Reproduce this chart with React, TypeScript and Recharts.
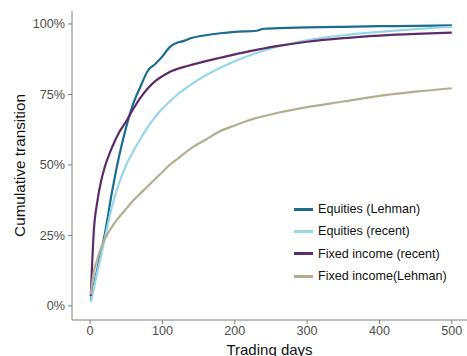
import React from "react";
import { LineChart, Line, XAxis, YAxis, Label } from "recharts";

// Trading days after the shock, and the cumulative share of the transition done by then.
const days = [1, 5, 10, 15, 20, 30, 40, 50, 60, 70, 80, 90, 100, 110, 120, 130, 140, 160, 180, 200, 230, 240, 260, 300, 350, 400, 450, 500];
const eqLehman = [0.02, 0.07, 0.13, 0.19, 0.25, 0.4, 0.53, 0.635, 0.72, 0.78, 0.835, 0.858, 0.885, 0.918, 0.933, 0.94, 0.95, 0.96, 0.967, 0.972, 0.976, 0.983, 0.985, 0.988, 0.99, 0.992, 0.993, 0.995];
const eqRecent = [0.014, 0.06, 0.12, 0.175, 0.235, 0.35, 0.435, 0.5, 0.55, 0.594, 0.635, 0.67, 0.7, 0.725, 0.748, 0.768, 0.786, 0.818, 0.845, 0.868, 0.897, 0.905, 0.92, 0.942, 0.96, 0.972, 0.982, 0.99];
const fiRecent = [0.035, 0.26, 0.37, 0.44, 0.49, 0.56, 0.615, 0.655, 0.7, 0.74, 0.772, 0.797, 0.815, 0.83, 0.84, 0.848, 0.855, 0.868, 0.88, 0.892, 0.908, 0.913, 0.922, 0.937, 0.95, 0.959, 0.965, 0.969];
const fiLehman = [0.04, 0.12, 0.165, 0.205, 0.235, 0.28, 0.315, 0.345, 0.375, 0.4, 0.425, 0.45, 0.475, 0.5, 0.52, 0.54, 0.56, 0.59, 0.62, 0.64, 0.667, 0.673, 0.685, 0.705, 0.725, 0.745, 0.76, 0.772];

const xTicks = [0, 100, 200, 300, 400, 500];
const yTicks = [0, 0.25, 0.5, 0.75, 1];

const series = [
  { key: "eqLehman", name: "Equities (Lehman)", color: "#1c6c8e", width: 2.2 },
  { key: "eqRecent", name: "Equities (recent)", color: "#96d6ea", width: 2.2 },
  { key: "fiRecent", name: "Fixed income (recent)", color: "#5c2b69", width: 2.2 },
  { key: "fiLehman", name: "Fixed income(Lehman)", color: "#b4ad8f", width: 2.2 },
];

const data = days.map((d, i) => ({
  d,
  eqLehman: eqLehman[i],
  eqRecent: eqRecent[i],
  fiRecent: fiRecent[i],
  fiLehman: fiLehman[i],
}));

const font = "'Liberation Sans', Arial, Helvetica, sans-serif";
const tickStyle = { fill: "#4d4d4d", fontSize: 12.6, fontFamily: font };

// legend drawn as a plain overlay so the chart doesn't reserve room for it
function LegendBox() {
  return (
    <div style={{ position: "absolute", left: 294, top: 198, fontFamily: font, fontSize: 12.6, color: "#111" }}>
      {series.map((s) => (
        <div key={s.key} style={{ display: "flex", alignItems: "center", height: 22.3 }}>
          <span style={{ display: "inline-block", width: 19, height: 3, background: s.color, marginRight: 5 }} />
          <span>{s.name}</span>
        </div>
      ))}
    </div>
  );
}

export default function App() {
  return (
    <div style={{ position: "absolute", left: 0, top: 0, width: 467, height: 356, overflow: "hidden", background: "#fff" }}>
      <LineChart width={467} height={356} data={data} margin={{ top: 11, right: 0, left: 0, bottom: 16 }}>
        <XAxis
          dataKey="d"
          type="number"
          domain={[-25, 521]}
          ticks={xTicks}
          tick={tickStyle}
          tickSize={4}
          tickMargin={2}
          height={20}
          stroke="#7f7f7f"
          tickLine={{ stroke: "#7f7f7f" }}
          allowDataOverflow
        >
          <Label value="Trading days" position="bottom" offset={4} style={{ fill: "#111", fontSize: 15, fontFamily: font }} />
        </XAxis>
        <YAxis
          type="number"
          domain={[-0.05, 1.046]}
          ticks={yTicks}
          tickFormatter={(v) => `${Math.round(v * 100)}%`}
          tick={tickStyle}
          tickSize={4}
          tickMargin={3}
          width={72}
          stroke="#7f7f7f"
          tickLine={{ stroke: "#7f7f7f" }}
          allowDataOverflow
        >
          <Label
            value="Cumulative transition"
            angle={-90}
            position="insideLeft"
            offset={20}
            style={{ textAnchor: "middle", fill: "#111", fontSize: 15.3, fontFamily: font }}
          />
        </YAxis>
        {series.map((s) => (
          <Line
            key={s.key}
            type="monotone"
            dataKey={s.key}
            name={s.name}
            stroke={s.color}
            strokeWidth={s.width}
            dot={false}
            isAnimationActive={false}
          />
        ))}
      </LineChart>
      <LegendBox />
    </div>
  );
}
